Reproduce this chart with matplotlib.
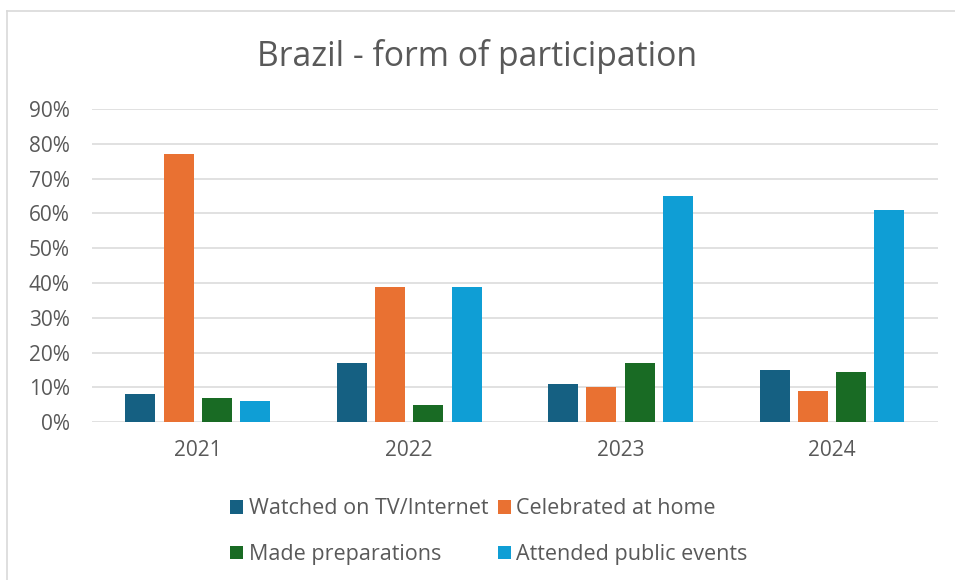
import numpy as np
import matplotlib
matplotlib.use("Agg")
import matplotlib.pyplot as plt
from matplotlib.lines import Line2D
from matplotlib.patches import Patch
from matplotlib.ticker import PercentFormatter

# data
years = ["2021", "2022", "2023", "2024"]
series = ["Watched on TV/Internet", "Celebrated at home", "Made preparations", "Attended public events"]
watched = [8, 17, 11, 15]
celebrated = [77, 39, 10, 9]
preparations = [7, 5, 17, 14.5]
attended = [6, 39, 65, 61]
yticks = [0, 10, 20, 30, 40, 50, 60, 70, 80, 90]

colors = ["#156082", "#E97132", "#196B24", "#0F9ED5"]
text_col = "#595959"
grid_col = "#D9D9D9"

plt.rcParams['font.family'] = ['Open Sans', 'DejaVu Sans']

fig = plt.figure(figsize=(9.55, 5.8), dpi=100)
ax = fig.add_axes([0.0963, 0.2719, 0.8856, 0.5402])

x = np.arange(len(years))
width = 0.142
step = 0.181
values = [watched, celebrated, preparations, attended]
for i, (name, vals) in enumerate(zip(series, values)):
    ax.bar(x + (i - 1.5) * step, vals, width, color=colors[i], label=name, zorder=3)

ax.set_xlim(-0.5, 3.5)
ax.set_ylim(0, 90)
ax.set_yticks(yticks)
ax.yaxis.set_major_formatter(PercentFormatter(decimals=0))
ax.set_xticks(x)
ax.set_xticklabels(years)
ax.tick_params(axis="both", length=0, colors=text_col, labelsize=15)
ax.tick_params(axis="y", pad=16)
ax.tick_params(axis="x", pad=13)
ax.grid(axis="y", color=grid_col, linewidth=1.1, zorder=0)
for s in ax.spines.values():
    s.set_visible(False)

fig.suptitle("Brazil - form of participation", x=0.5, y=0.932, fontsize=24.3, color=text_col)

# legend is filled row by row in the original, matplotlib fills by column
order = [0, 2, 1, 3]
handles = [Patch(facecolor=colors[i], edgecolor="none") for i in order]
labels = [series[i] for i in order]
fig.legend(handles, labels, loc="center", bbox_to_anchor=(0.512, 0.0830), ncol=2,
           frameon=False, fontsize=15.5, labelcolor=text_col, labelspacing=1.15,
           columnspacing=0.45, handlelength=0.6, handleheight=0.6, handletextpad=0.25)

# chart border (left and top visible)
fig.add_artist(Line2D([7 / 955, 7 / 955], [0, 1 - 10.5 / 580], color=grid_col, lw=1.2))
fig.add_artist(Line2D([7 / 955, 1], [1 - 10.5 / 580, 1 - 10.5 / 580], color=grid_col, lw=1.2))

fig.savefig("out.png", dpi=100)
